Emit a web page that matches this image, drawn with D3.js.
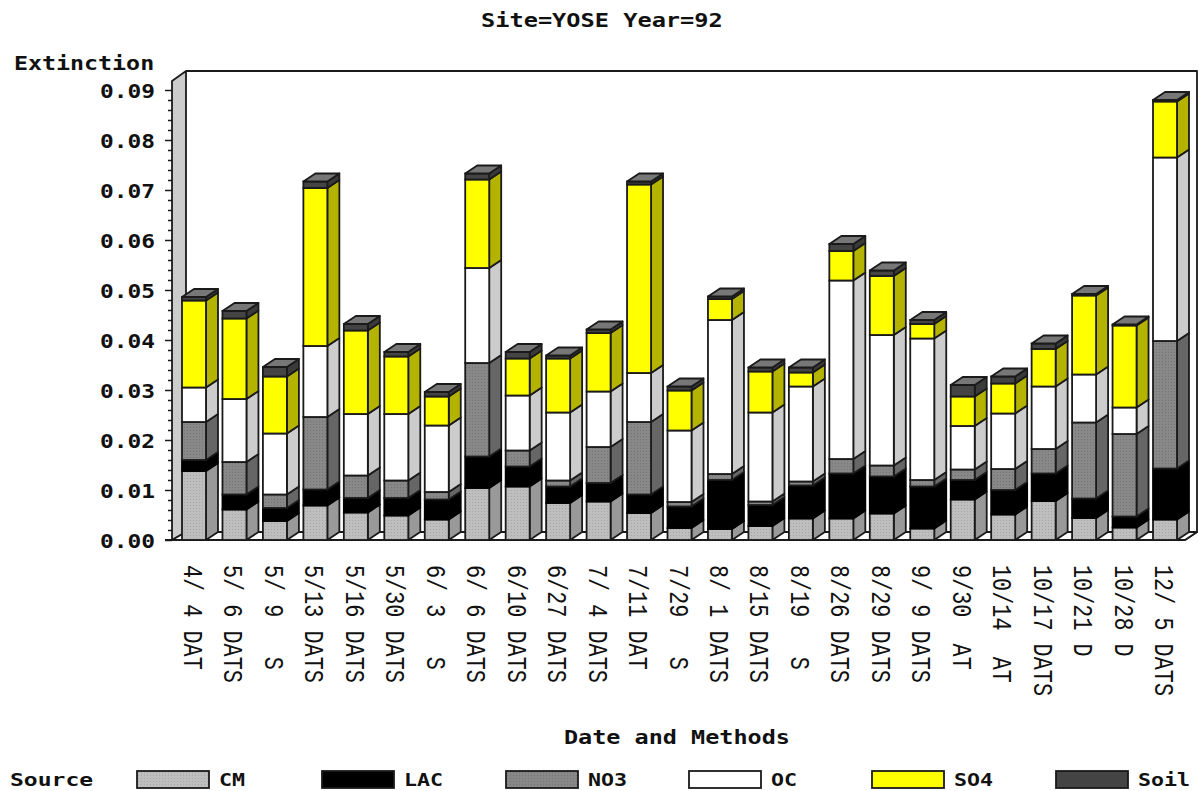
<!DOCTYPE html>
<html><head><meta charset="utf-8">
<script src="https://cdn.jsdelivr.net/npm/d3@7/dist/d3.min.js"></script>
<style>html,body{margin:0;background:#fff}svg{display:block}text{white-space:pre;fill:#111}</style>
</head><body><svg id="c" width="1199" height="791"></svg>
<script>
const categories=["4/ 4 DAT","5/ 6 DATS","5/ 9   S","5/13 DATS","5/16 DATS","5/30 DATS","6/ 3   S","6/ 6 DATS","6/10 DATS","6/27 DATS","7/ 4 DATS","7/11 DAT","7/29   S","8/ 1 DATS","8/15 DATS","8/19   S","8/26 DATS","8/29 DATS","9/ 9 DATS","9/30  AT","10/14  AT","10/17 DATS","10/21 D","10/28 D","12/ 5 DATS"];
const sources=["CM","LAC","NO3","OC","SO4","Soil"];
// stacked upper boundaries
const topCM=[.0138,.0061,.0038,.0069,.0055,.0049,.0041,.0104,.0107,.0074,.0077,.0054,.0024,.0022,.0028,.0043,.0043,.0053,.0023,.0081,.0051,.0078,.0044,.0025,.0041];
const topLAC=[.0160,.0091,.0064,.0101,.0084,.0084,.0081,.0167,.0147,.0107,.0114,.0091,.0067,.0120,.0070,.0109,.0133,.0127,.0107,.0120,.0100,.0133,.0083,.0047,.0143];
const topNO3=[.0236,.0156,.0091,.0246,.0129,.0119,.0096,.0354,.0179,.0119,.0186,.0236,.0076,.0132,.0077,.0117,.0162,.0149,.0120,.0141,.0142,.0182,.0235,.0212,.0398];
const topOC=[.0305,.0282,.0213,.0388,.0252,.0252,.0229,.0544,.0289,.0255,.0297,.0334,.0219,.0440,.0255,.0307,.0519,.0410,.0403,.0228,.0253,.0307,.0331,.0265,.0765];
const topSO4=[.0479,.0443,.0327,.0704,.0419,.0367,.0287,.0721,.0363,.0363,.0414,.0711,.0299,.0482,.0337,.0335,.0578,.0528,.0432,.0287,.0313,.0382,.0489,.0429,.0877];
const topSoil=[.0486,.0458,.0346,.0717,.0432,.0376,.0296,.0733,.0376,.0369,.0421,.0717,.0307,.0487,.0345,.0345,.0592,.0539,.0440,.0310,.0327,.0393,.0492,.0431,.0880];
const majorTicks=[0,.01,.02,.03,.04,.05,.06,.07,.08,.09];
const minorTicks=[.002,.004,.006,.008,.012,.014,.016,.018,.022,.024,.026,.028,.032,.034,.036,.038,.042,.044,.046,.048,.052,.054,.056,.058,.062,.064,.066,.068,.072,.074,.076,.078,.082,.084,.086,.088];
const legendX=[137,322,506,689,872,1056];

const tops=[topCM,topLAC,topNO3,topOC,topSO4,topSoil];
const front=["url(#pCM)","#000","url(#pNO3)","#fff","#ffff00","#444"];
const side=["#999","#000","#666","#ccc","#b3b300","#3a3a3a"];
const svg=d3.select("#c");
const defs=svg.append("defs");
function pat(id,bg,dot){const p=defs.append("pattern").attr("id",id).attr("width",3).attr("height",3).attr("patternUnits","userSpaceOnUse");
 p.append("rect").attr("width",3).attr("height",3).attr("fill",bg);
 p.append("rect").attr("x",1).attr("y",1).attr("width",1).attr("height",1).attr("fill",dot);}
pat("pCM","#bebebe","#a6a6a6");pat("pNO3","#888","#747474");

const y=d3.scaleLinear().domain([0,.09]).range([540,90]);
const x=d3.scaleBand().domain(categories).range([182,1177]).paddingInner(.407).paddingOuter(0);
const dx=12,dy=-8;
const bw=x.bandwidth();
const left=172,right=1185,bottom=y(0);
const sw=1.8, ink="#1a1a1a";

// walls
const g=svg.append("g").attr("stroke",ink).attr("stroke-width",sw).attr("stroke-linejoin","round");
g.append("path").attr("fill","#ccc").attr("d",`M${left},${bottom}L${left},81L${left+14},71L${left+14},${bottom+dy}Z`);
g.append("path").attr("fill","#fff").attr("d",`M${left+14},71L${right+12},71L${right+12},${bottom+dy}L${right},${bottom}`);
g.append("path").attr("fill","#fff").attr("d",`M${left},${bottom}L${left+14},${bottom+dy}L${right+12},${bottom+dy}L${right},${bottom}Z`);

// axis ticks through d3 axes
const axMinor=d3.axisLeft(y).tickValues(minorTicks).tickSize(4).tickFormat("");
const axMajor=d3.axisLeft(y).tickValues(majorTicks).tickSize(7).tickFormat("");
const gm=svg.append("g").attr("transform",`translate(${left},0)`).call(axMinor);
const gM=svg.append("g").attr("transform",`translate(${left},0)`).call(axMajor);
[gm,gM].forEach(a=>{a.select(".domain").remove();a.selectAll("line").attr("stroke",ink).attr("stroke-width",1.5);});
svg.append("g").selectAll("text").data(majorTicks).join("text")
 .attr("transform",d=>`translate(155,${y(d)+8}) scale(1.27,1.1)`)
 .attr("text-anchor","end").attr("font-family","DejaVu Sans Mono").attr("font-weight","bold").attr("font-size",18)
 .text(d3.format(".2f"));
svg.append("line").attr("x1",165).attr("x2",1185).attr("y1",bottom).attr("y2",bottom).attr("stroke",ink).attr("stroke-width",2);

// bars
const bars=svg.append("g").selectAll("g").data(categories).join("g");
bars.each(function(c,i){
 const s=d3.select(this), x0=x(c), x1=x0+bw;
 tops.forEach((arr,k)=>{
  const v1=arr[i], v0=k?tops[k-1][i]:0, yt=y(v1), yb=y(v0);
  s.append("path").attr("fill",side[k]).attr("stroke",k==1?"#000":ink).attr("stroke-width",sw).attr("stroke-linejoin","round")
   .attr("d",`M${x1},${yb}L${x1+dx},${yb+dy}L${x1+dx},${yt+dy}L${x1},${yt}Z`);
  s.append("rect").attr("x",x0).attr("y",yt).attr("width",bw).attr("height",Math.max(yb-yt,0))
   .attr("fill",front[k]).attr("stroke",k==1?"#000":ink).attr("stroke-width",sw);
 });
 const yt=y(topSoil[i]);
 s.append("path").attr("fill","#777").attr("stroke",ink).attr("stroke-width",sw).attr("stroke-linejoin","round")
  .attr("d",`M${x0},${yt}L${x0+dx},${yt+dy}L${x1+dx},${yt+dy}L${x1},${yt}Z`);
});

// category labels
svg.append("g").selectAll("text").data(categories).join("text")
 .attr("transform",c=>`translate(${x(c)+bw/2-10},565) rotate(90) scale(.78,1)`)
 .attr("font-family","Liberation Mono").attr("font-size",28).text(d=>d);

function label(t,tx,ty,sx,size){svg.append("text").attr("transform",`translate(${tx},${ty}) scale(${sx},1.1)`)
 .attr("font-family","DejaVu Sans Mono").attr("font-weight","bold").attr("font-size",size).text(t);}
label("Site=YOSE Year=92",481,27,1.39,17);
label("Extinction",14,70,1.37,17);
label("Date and Methods",564,744,1.38,17);
label("Source",10,786,1.44,16);

// legend
const lg=svg.append("g").selectAll("g").data(sources).join("g").attr("transform",(d,i)=>`translate(${legendX[i]},771)`);
lg.append("rect").attr("width",72).attr("height",17).attr("fill",(d,i)=>front[i]).attr("stroke",ink).attr("stroke-width",sw);
lg.append("text").attr("transform","translate(82,15) scale(1.35,1.1)").attr("font-family","DejaVu Sans Mono").attr("font-weight","bold").attr("font-size",16).text(d=>d);
</script></body></html>
